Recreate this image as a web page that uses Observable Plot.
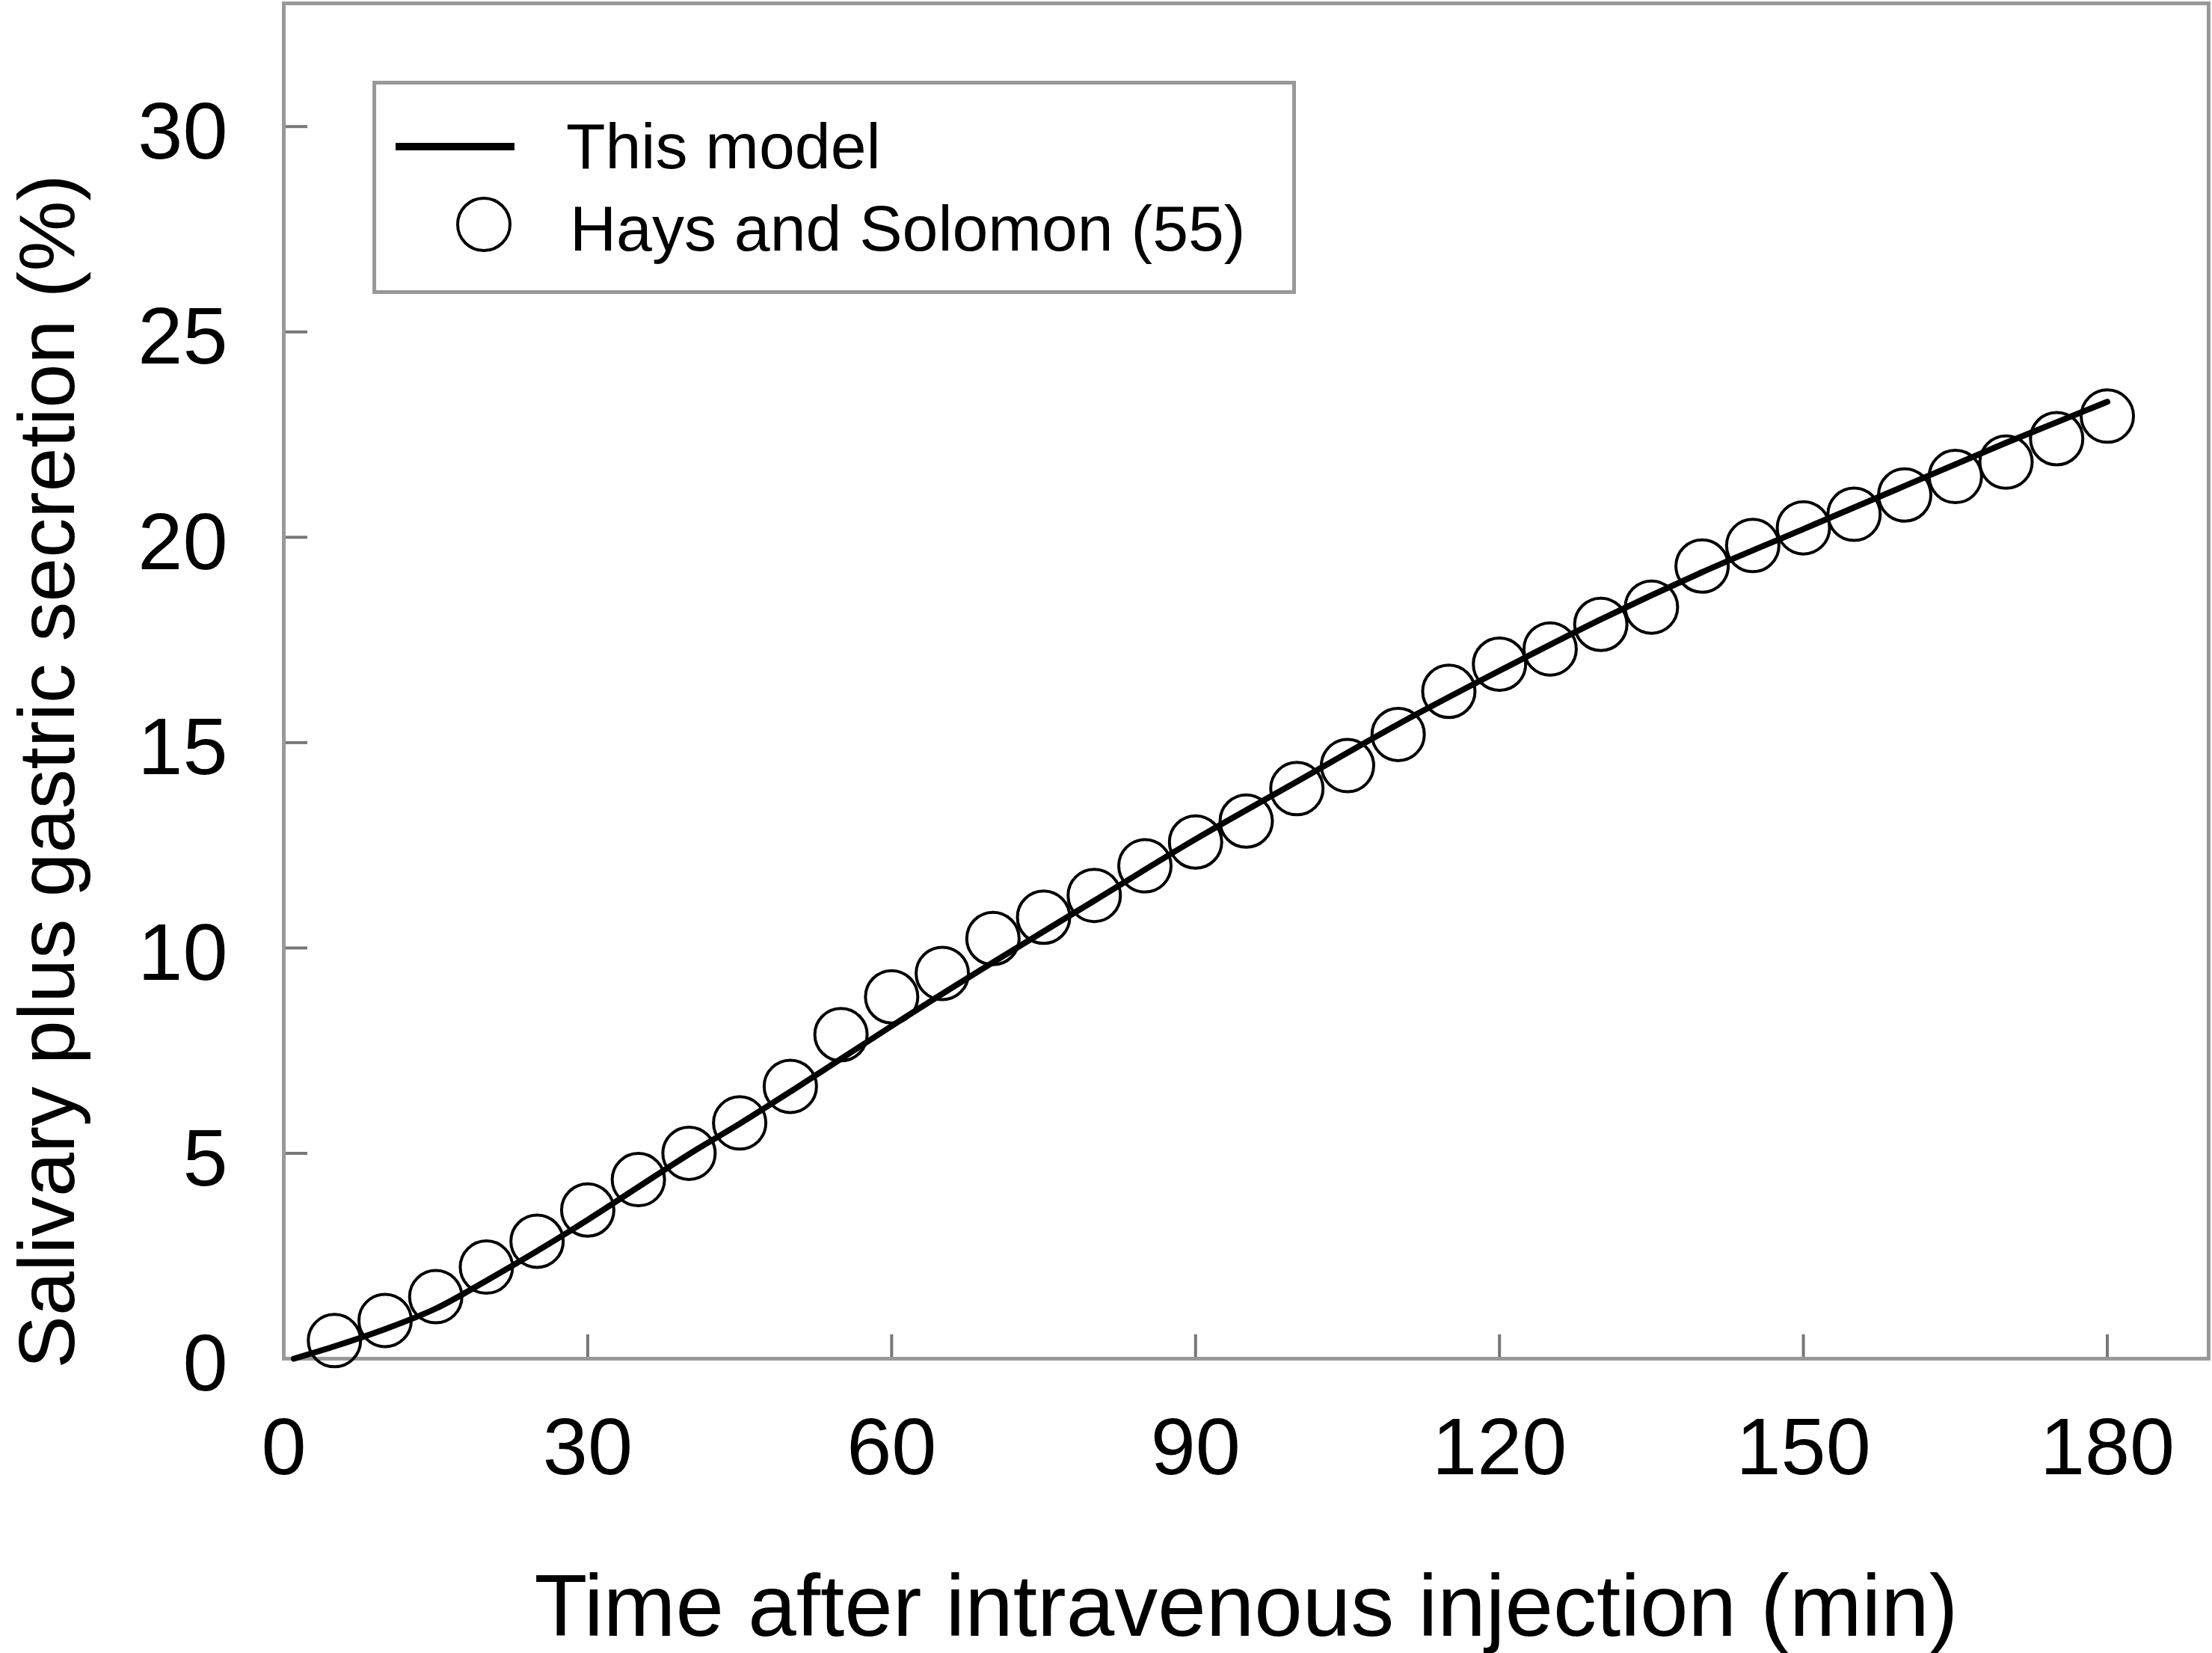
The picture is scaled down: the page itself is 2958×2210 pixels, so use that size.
<!DOCTYPE html>
<html><head><meta charset="utf-8">
<script src="https://cdn.jsdelivr.net/npm/d3@7"></script>
<script src="https://cdn.jsdelivr.net/npm/@observablehq/plot@0.6"></script>
<style>
body{margin:0;background:#fff;}
#chart{position:relative;width:2958px;height:2210px;font-family:"Liberation Sans",Arial,sans-serif;}
#legend{position:absolute;left:0;top:0;pointer-events:none;}
</style></head><body><div id="chart"></div>
<script>
// Observed data: Hays and Solomon (55)
const timeObs = [5,10,15,20,25,30,35,40,45,50,55,60,65,70,75,80,85,90,95,100,105,110,115,120,125,130,135,140,145,150,155,160,165,170,175,180];
const secretionObs = [0.44,0.93,1.51,2.23,2.86,3.62,4.36,5.0,5.74,6.63,7.89,8.81,9.38,10.23,10.75,11.28,12.0,12.58,13.09,13.88,14.44,15.2,16.25,16.91,17.28,17.88,18.3,19.3,19.8,20.23,20.56,21.03,21.48,21.83,22.4,22.95];
// Model curve
const timeModel = [1,5,10,15,20,25,30,35,40,45,50,55,60,70,80,90,100,110,120,130,140,150,160,170,180];
const secretionModel = [0,0.3,0.72,1.22,1.9,2.62,3.38,4.18,4.98,5.72,6.5,7.3,8.1,9.65,11.15,12.65,14.05,15.45,16.75,18.0,19.15,20.2,21.25,22.3,23.3];
const xTicks = [0,30,60,90,120,150,180];
const yTicks = [0,5,10,15,20,25,30];
const xTitle = "Time after intravenous injection (min)";
const yTitle = "Salivary plus gastric secretion (%)";
const legendLabels = ["This model","Hays and Solomon (55)"];

const obs = timeObs.map((t,i)=>({t, v: secretionObs[i]}));
const model = timeModel.map((t,i)=>({t, v: secretionModel[i]}));

const W=2958, H=2210, mL=379, mR=5, mT=4, mB=394;
const font = "'Liberation Sans', Arial, sans-serif";
const plot = Plot.plot({
  width: W, height: H, marginLeft: mL, marginRight: mR, marginTop: mT, marginBottom: mB,
  style: {fontFamily: font, background: "white", color: "black"},
  x: {domain: [0,190]},
  y: {domain: [0,33]},
  marks: [
    Plot.axisX(xTicks, {tickSize: 0, tickPadding: 78, fontSize: 108, label: null, tickFormat: d => String(d)}),
    Plot.axisY(yTicks, {tickSize: 0, tickPadding: 75, fontSize: 108, dy: 8, label: null, tickFormat: d => String(d)}),
    Plot.tickX(xTicks, {x: d => d, insetTop: (H - mT - mB) - 32, stroke: "#777", strokeWidth: 4}),
    Plot.tickY(yTicks, {y: d => d, insetRight: (W - mL - mR) - 32, stroke: "#777", strokeWidth: 4}),
    Plot.frame({stroke: "#999", strokeWidth: 5}),
    Plot.dot(obs, {x: "t", y: "v", r: 35, stroke: "black", strokeWidth: 4, fill: "none"}),
    Plot.line(model, {x: "t", y: "v", stroke: "black", strokeWidth: 8, curve: "monotone-x"}),
    Plot.text([xTitle], {text: d => d, frameAnchor: "bottom", textAnchor: "middle", lineAnchor: "bottom", dy: 370, fontSize: 116, fill: "black"}),
    Plot.text([yTitle], {text: d => d, frameAnchor: "left", textAnchor: "middle", rotate: -90, lineAnchor: "bottom", dx: -281, dy: 121, fontSize: 106, fill: "black"})
  ]
});
document.getElementById("chart").appendChild(plot);

// Legend overlay (inside the plot frame, as in the reference)
const leg = d3.select("#chart").append("svg").attr("id","legend")
  .attr("width", W).attr("height", H).style("font-family", font);
leg.append("rect").attr("x", 500.5).attr("y", 110.5).attr("width", 1230).attr("height", 280)
  .attr("fill", "white").attr("stroke", "#999").attr("stroke-width", 5);
leg.append("line").attr("x1", 529).attr("x2", 688).attr("y1", 196).attr("y2", 196)
  .attr("stroke", "black").attr("stroke-width", 10);
leg.append("circle").attr("cx", 647).attr("cy", 300).attr("r", 35)
  .attr("fill", "none").attr("stroke", "black").attr("stroke-width", 4);
leg.append("text").attr("x", 757).attr("y", 225).attr("font-size", 86).text(legendLabels[0]);
leg.append("text").attr("x", 762).attr("y", 335).attr("font-size", 86).text(legendLabels[1]);
</script></body></html>
